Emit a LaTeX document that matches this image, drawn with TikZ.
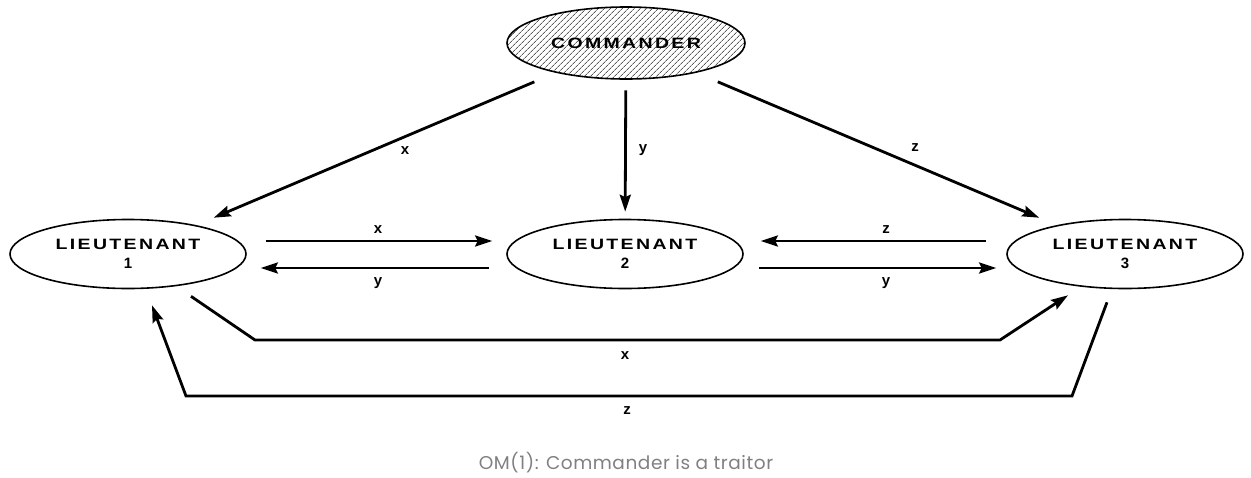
\documentclass[tikz,border=0pt]{standalone}
\usepackage{fontspec}
\setmainfont{Liberation Sans}
\newfontfamily\capfont{Poppins}
\usetikzlibrary{arrows.meta,patterns.meta,calc,shapes.geometric}
\newcommand\widetxt[1]{\scalebox{1.3}[1]{#1}}
\begin{document}
\begin{tikzpicture}[x=1pt,y=-1pt,
  general/.style={ellipse,draw,line width=1.6pt,minimum width=236pt,minimum height=69pt,inner sep=0pt,align=center,
    font=\fontsize{15}{19}\selectfont\bfseries\addfontfeature{LetterSpace=12}},
  arr/.style={line width=2.8pt,-{Stealth[length=17pt,width=11pt,inset=2.5pt]}},
  lbl/.style={font=\fontsize{15}{15}\selectfont\bfseries,inner sep=0pt},
]
\useasboundingbox (0,0) rectangle (1251,477);
\node[general,pattern={Lines[angle=45,distance=4pt,line width=0.6pt]},minimum width=238pt,minimum height=72pt] (cmd) at (626,43) {\widetxt{COMMANDER}};
\node[general] (l1) at (128,254) {\widetxt{LIEUTENANT}\\1};
\node[general] (l2) at (625,254) {\widetxt{LIEUTENANT}\\2};
\node[general] (l3) at (1125,254) {\widetxt{LIEUTENANT}\\3};
% commander to lieutenants
\draw[arr,shorten <=24pt,shorten >=19pt] (cmd) -- (l1);
\draw[arr,shorten <=11pt,shorten >=7pt] (cmd) -- (l2);
\draw[arr,shorten <=24pt,shorten >=19pt] (cmd) -- (l3);
\node[lbl] (lx) at (405,151) {x};
\node[lbl] (ly) at (643,150) {y};
\node[lbl] (lz) at (915,148) {z};
% horizontal exchanges
\draw[arr] ($(l1.east)+(19,-13)$) -- ($(l2.west)+(-14,-13)$);
\draw[arr] ($(l2.west)+(-17,14)$) -- ($(l1.east)+(14,14)$);
\draw[arr] ($(l3.west)+(-20,-13)$) -- ($(l2.east)+(17,-13)$);
\draw[arr] ($(l2.east)+(15,14)$) -- ($(l3.west)+(-10,14)$);
\node[lbl] (hx) at (378,230) {x};
\node[lbl] (hy) at (378,283) {y};
\node[lbl] (hz) at (886,230) {z};
\node[lbl] (hy2) at (886,283) {y};
% bottom routes
\draw[arr,line join=miter] ($(l1.south)+(63,7)$) -- (255,340) -- (1000,340) -- ($(l3.south)+(-57,6)$);
\draw[arr,line join=miter] ($(l3.south)+(-18,13)$) -- (1072,396) -- (186,396) -- ($(l1.south)+(24,16)$);
\node[lbl] (bx) at (625,356) {x};
\node[lbl] (bz) at (627,411) {z};
% caption
\node[font=\capfont\fontsize{18.5}{22}\selectfont\addfontfeature{LetterSpace=3},text=black!50,inner sep=0pt] (cap) at (626,463) {OM(1): Commander is a traitor};
\end{tikzpicture}
\end{document}
